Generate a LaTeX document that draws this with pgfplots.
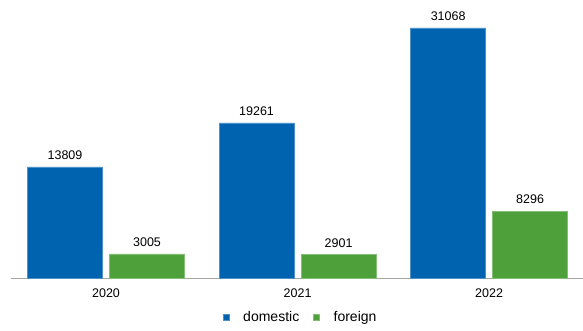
\documentclass[border=0pt]{standalone}
\usepackage{fontspec}
\setmainfont{Liberation Sans}
\usepackage{pgfplots}
\pgfplotsset{compat=1.18}
\definecolor{dom}{HTML}{0063AF}
\definecolor{for}{HTML}{4EA03B}
\begin{document}
\begin{tikzpicture}[x=1pt,y=1pt]
\path[use as bounding box] (0,0) rectangle (583,330);
\begin{axis}[
  at={(11pt,52pt)}, anchor=south west,
  scale only axis, width=572pt, height=268pt,
  xmin=-0.496, xmax=2.49, ymin=0, ymax=33300,
  axis x line=bottom, axis y line=none,
  x axis line style={draw=gray!70, -},
  xtick={0,1,2}, xticklabels={2020,2021,2022},
  major tick length=0pt,
  tick label style={font=\fontsize{12.5}{14}\selectfont, text=black},
  xticklabel style={yshift=-7pt},
  /pgf/number format/assume math mode=true,
  ybar, bar width=75pt,
  nodes near coords,
  nodes near coords style={font=\fontsize{12.5}{14}\selectfont, text=black, yshift=4pt},
  point meta=explicit symbolic,
  legend columns=2,
  legend style={at={(0.509,-0.147)}, anchor=center, draw=none, font=\fontsize{14}{16}\selectfont, column sep=9pt,
    nodes={inner xsep=5pt}},
  legend image code/.code={\fill[#1] (1pt,-3pt) rectangle (7pt,3pt);},
]
\addplot[fill=dom, draw=dom!70!white, bar shift=-41pt] coordinates {(0,13809)[13809] (1,19261)[19261] (2,31068)[31068]};
\addplot[fill=for, draw=for!70!white, bar shift=41pt] coordinates {(0,3005)[3005] (1,2901)[2901] (2,8296)[8296]};
\legend{domestic, foreign}
\end{axis}
\end{tikzpicture}
\end{document}
